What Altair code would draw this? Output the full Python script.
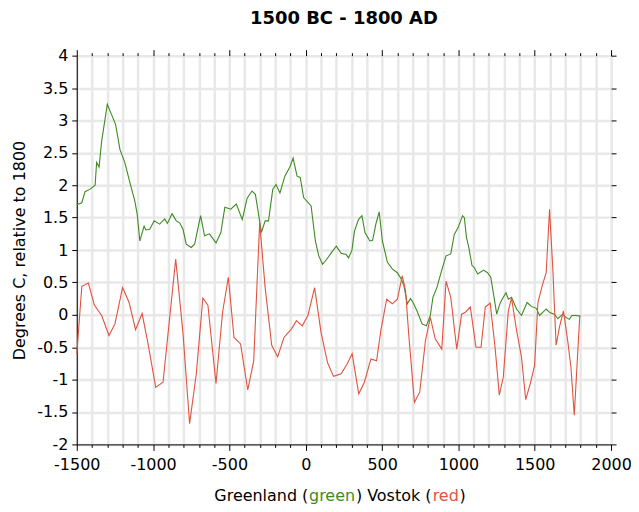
import altair as alt
import pandas as pd

# Greenland (green) series
green_year = [-1500, -1467, -1446, -1413, -1380, -1370, -1354, -1337, -1300, -1272,
              -1246, -1217, -1185, -1152, -1120, -1104, -1087, -1059, -1048, -1022,
              -993, -957, -924, -906, -876, -848, -826, -804, -783, -750,
              -728, -689, -663, -631, -588, -556, -530, -491, -455, -416,
              -384, -352, -330, -309, -291, -266, -244, -216, -195, -169,
              -137, -104, -83, -57, -36, -14, 35, 63, 85, 110,
              135, 168, 200, 232, 265, 280, 302, 319, 345, 368,
              388, 420, 438, 459, 481, 502, 535, 567, 600, 626,
              643, 665, 686, 703, 729, 762, 790, 816, 833, 859,
              891, 919, 950, 973, 999, 1027, 1039, 1053, 1068, 1089,
              1104, 1126, 1165, 1191, 1212, 1230, 1251, 1273, 1294, 1312,
              1327, 1348, 1381, 1413, 1450, 1478, 1510, 1532, 1575, 1601,
              1629, 1651, 1683, 1705, 1726, 1744, 1770, 1800]
green_val = [1.70, 1.73, 1.90, 1.94, 2.00, 2.35, 2.28, 2.68, 3.25, 3.09,
             2.94, 2.55, 2.35, 2.04, 1.76, 1.55, 1.14, 1.37, 1.31, 1.32,
             1.45, 1.40, 1.48, 1.41, 1.56, 1.45, 1.42, 1.32, 1.09, 1.04,
             1.09, 1.53, 1.22, 1.25, 1.11, 1.27, 1.66, 1.63, 1.71, 1.47,
             1.80, 1.91, 1.86, 1.55, 1.27, 1.45, 1.45, 1.94, 2.01, 1.88,
             2.14, 2.28, 2.42, 2.14, 2.12, 1.81, 1.68, 1.14, 0.91, 0.78,
             0.85, 0.96, 1.06, 0.95, 0.93, 0.88, 0.99, 1.29, 1.47, 1.53,
             1.27, 1.14, 1.15, 1.40, 1.59, 1.14, 0.81, 0.71, 0.65, 0.55,
             0.45, 0.17, 0.25, 0.19, 0.06, -0.14, -0.17, -0.01, 0.27, 0.42,
             0.69, 0.91, 0.94, 1.24, 1.35, 1.53, 1.50, 1.19, 1.04, 0.76,
             0.73, 0.63, 0.69, 0.65, 0.58, 0.32, 0.01, 0.18, 0.27, 0.34,
             0.24, 0.27, 0.09, -0.01, 0.19, 0.13, 0.10, -0.01, 0.09, 0.03,
             0.01, -0.06, 0.01, -0.04, -0.07, -0.01, -0.01, -0.02]

# Vostok (red) series
red_year = [-1500, -1467, -1424, -1385, -1337, -1289, -1250, -1200, -1157, -1115,
            -1072, -1033, -983, -935, -852, -804, -761, -717, -674, -641,
            -588, -545, -507, -470, -427, -380, -341, -302, -266, -223,
            -184, -143, -94, -61, -23, 14, 58, 100, 143, 182,
            232, 271, 304, 347, 384, 427, 464, 492, 530, 567,
            600, 632, 654, 675, 712, 747, 784, 816, 848, 891,
            919, 950, 989, 1021, 1046, 1078, 1115, 1148, 1176, 1208,
            1240, 1268, 1294, 1327, 1348, 1381, 1413, 1441, 1471, 1499,
            1521, 1549, 1575, 1597, 1618, 1640, 1662, 1688, 1716, 1737,
            1759, 1795]
red_val = [-0.61, 0.44, 0.49, 0.15, -0.01, -0.32, -0.14, 0.42, 0.19, -0.23,
           0.02, -0.45, -1.12, -1.04, 0.86, -0.29, -1.68, -0.91, 0.26, 0.15,
           -1.06, 0.04, 0.58, -0.35, -0.45, -1.16, -0.71, 1.42, 0.42, -0.47,
           -0.65, -0.35, -0.22, -0.09, -0.17, -0.01, 0.42, -0.27, -0.74, -0.95,
           -0.91, -0.76, -0.60, -1.22, -1.04, -0.68, -0.71, -0.24, 0.24, 0.17,
           0.24, 0.60, 0.37, -0.32, -1.35, -1.19, -0.40, -0.04, -0.37, -0.53,
           0.52, 0.27, -0.53, 0.01, 0.04, 0.12, -0.50, -0.50, 0.12, 0.18,
           -0.50, -1.24, -0.96, 0.06, 0.26, -0.24, -0.65, -1.31, -1.06, -0.78,
           0.19, 0.45, 0.65, 1.63, 0.73, -0.47, -0.19, 0.06, -0.40, -0.81,
           -1.55, -0.01]

series_names = ["Greenland", "Vostok"]
series_colors = ["#3f8a22", "#e0533f"]

x_ticks = list(range(-1500, 2001, 100))
y_ticks = [-2, -1.5, -1, -0.5, 0, 0.5, 1, 1.5, 2, 2.5, 3, 3.5, 4]

df = pd.concat([
    pd.DataFrame({"year": green_year, "value": green_val, "series": "Greenland"}),
    pd.DataFrame({"year": red_year, "value": red_val, "series": "Vostok"}),
], ignore_index=True)

FONT = "DejaVu Sans"
xscale = alt.Scale(domain=[-1500, 2000], nice=False, zero=False)
yscale = alt.Scale(domain=[-2, 4], nice=False, zero=False)

tick_size_x = {"condition": {"test": "datum.value % 500 === 0", "value": 6}, "value": 3}

lines = alt.Chart(df).mark_line(strokeWidth=1.1).encode(
    x=alt.X("year:Q", scale=xscale,
            axis=alt.Axis(values=x_ticks, title=None,
                          labelExpr="datum.value % 500 === 0 ? toString(datum.value) : ''",
                          grid=True, gridColor="#e8e8e8", gridWidth=2.5,
                          tickSize=tick_size_x, tickColor="black", domainColor="black",
                          labelFont=FONT, labelFontSize=16, labelColor="black",
                          labelPadding=6, labelFlush=False, labelOverlap=False)),
    y=alt.Y("value:Q", scale=yscale,
            axis=alt.Axis(values=y_ticks, title="Degrees C, relative to 1800",
                          labelExpr="toString(datum.value)",
                          grid=True, gridColor="#e8e8e8", gridWidth=2.5,
                          tickSize=5, tickColor="black", domainColor="black",
                          labelFont=FONT, labelFontSize=16, labelColor="black",
                          labelPadding=4, labelFlush=False, labelOverlap=False,
                          titleFont=FONT, titleFontSize=16, titleFontWeight="normal",
                          titleColor="black", titleX=-57, titleY=195,
                          titleAngle=270, titleAlign="center", titleBaseline="middle")),
    color=alt.Color("series:N", scale=alt.Scale(domain=series_names, range=series_colors),
                    legend=None),
)

frame = alt.Chart(df).mark_point(opacity=0).encode(
    x=alt.X("year:Q", scale=xscale,
            axis=alt.Axis(orient="top", values=x_ticks, labels=False, title=None,
                          grid=False, domain=False, tickSize=tick_size_x, tickColor="black")),
    y=alt.Y("value:Q", scale=yscale,
            axis=alt.Axis(orient="right", values=y_ticks, labels=False, title=None,
                          grid=False, domain=False, tickSize=5, tickColor="black")),
)

one = pd.DataFrame({"k": [0]})


def piece(txt, xpos, col):
    return alt.Chart(one).mark_text(
        text=txt, align="left", baseline="middle", font=FONT, fontSize=16
    ).encode(x=alt.value(xpos), y=alt.value(442), color=alt.value(col))


title_pieces = [
    piece("Greenland (", 138, "black"),
    piece("green", 233, series_colors[0]),
    piece(") Vostok (", 280, "black"),
    piece("red", 357, series_colors[1]),
    piece(")", 384, "black"),
]

chart = alt.layer(lines, frame, *title_pieces).resolve_scale(
    x="independent", y="independent"
).properties(
    width=536, height=390,
    title=alt.TitleParams("1500 BC - 1800 AD", font=FONT, fontSize=18, fontWeight="bold",
                          anchor="middle", color="black", offset=20),
    autosize=alt.AutoSizeParams(type="none"),
    padding={"left": 69, "top": 47, "right": 20, "bottom": 62},
).configure_view(stroke="black", strokeWidth=1)

chart.save("out.html", embed_options={"renderer": "svg", "actions": False})
